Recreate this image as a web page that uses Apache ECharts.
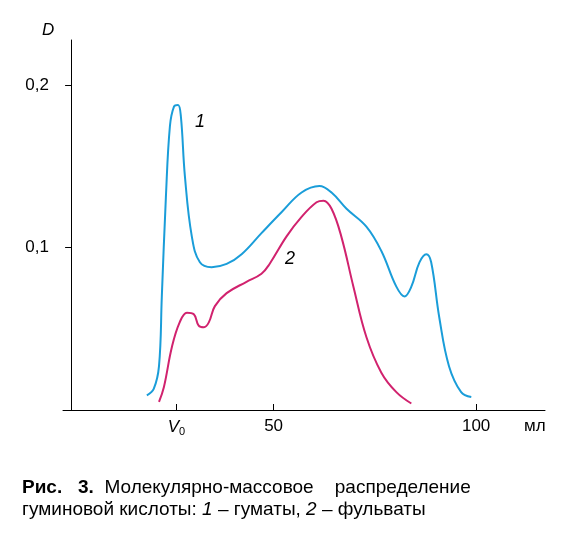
<!DOCTYPE html>
<html>
<head>
<meta charset="utf-8">
<script src="https://cdn.jsdelivr.net/npm/echarts@6/dist/echarts.min.js"></script>
<style>
html, body { margin: 0; padding: 0; background: #fff; }
#chart { width: 581px; height: 547px; }
</style>
</head>
<body>
<div id="chart"></div>
<script>
// кривая 1 - гуматы
var humates = [
	[18.7, 0.009], [20.4, 0.013], [21.7, 0.027], [22.4, 0.07], [23.4, 0.131],
	[24.4, 0.175], [25.4, 0.187], [26.4, 0.188], [27.1, 0.181], [28.1, 0.144],
	[29.8, 0.107], [31.8, 0.091], [34.7, 0.088], [38.4, 0.09], [42.1, 0.096],
	[47, 0.109], [52, 0.122], [56.9, 0.134], [61.3, 0.138], [64.3, 0.134],
	[68, 0.124], [72.9, 0.113], [76.6, 0.098], [80.3, 0.076], [82.3, 0.07],
	[84, 0.076], [86, 0.091], [87.7, 0.096], [88.9, 0.091], [90.9, 0.057],
	[93.3, 0.027], [96.3, 0.011], [98.8, 0.008]
];
// кривая 2 - фульваты
var fulvates = [
	[21.7, 0.005], [22.9, 0.014], [24.9, 0.039], [26.8, 0.054], [28.6, 0.06],
	[30.3, 0.059], [31.5, 0.052], [32.8, 0.051], [34, 0.054], [35.5, 0.064],
	[38.4, 0.072], [43.3, 0.079], [47, 0.084], [49, 0.09], [53.2, 0.107],
	[56.9, 0.119], [60.6, 0.128], [62.3, 0.129], [64.3, 0.124], [66.7, 0.107],
	[69.7, 0.076], [72.9, 0.045], [76.6, 0.023], [80.3, 0.011], [84, 0.004]
];
var xTicks = [26, 50, 100];
var yTicks = [0.1, 0.2];

var chart = echarts.init(document.getElementById('chart'));
chart.setOption({
	animation: false,
	grid: { left: 63, right: 36, top: 40, bottom: 137, containLabel: false, outerBoundsMode: 'none' },
	xAxis: {
		type: 'value', min: -2, max: 117,
		splitLine: { show: false },
		axisLine: { lineStyle: { color: '#000' } },
		axisTick: { inside: true, length: 6, customValues: xTicks, lineStyle: { color: '#000' } },
		axisLabel: {
			customValues: xTicks, color: '#000', fontSize: 17, fontFamily: 'Liberation Sans',
			formatter: function (v) { return v === 26 ? '{v|V}{s|0}' : String(v); },
			rich: { v: { fontSize: 17, fontStyle: 'italic', fontFamily: 'Liberation Sans' }, s: { fontSize: 11, verticalAlign: 'bottom', padding: [8, 0, 0, 0] } }
		}
	},
	yAxis: {
		type: 'value', min: 0, max: 0.228,
		splitLine: { show: false },
		axisLine: { show: true, lineStyle: { color: '#000' } },
		axisTick: { inside: false, length: 6, customValues: yTicks, lineStyle: { color: '#000' } },
		axisLabel: {
			customValues: yTicks, color: '#000', fontSize: 17, fontFamily: 'Liberation Sans', margin: 14,
			formatter: function (v) { return v.toFixed(1).replace('.', ','); }
		}
	},
	series: [
		{ type: 'line', data: humates, smooth: 0.4, symbol: 'none', lineStyle: { color: '#1a9dd9', width: 2 } },
		{ type: 'line', data: fulvates, smooth: 0.4, symbol: 'none', lineStyle: { color: '#d1226e', width: 2 } }
	],
	graphic: [
		{ type: 'text', left: 42, top: 22, style: { text: 'D', fontSize: 17, fontStyle: 'italic', fontFamily: 'Liberation Sans', fill: '#000' } },
		{ type: 'text', left: 524, top: 418, style: { text: 'мл', fontSize: 17, fontFamily: 'Liberation Sans', fill: '#000' } },
		{ type: 'text', left: 195, top: 113, style: { text: '1', fontSize: 18, fontStyle: 'italic', fontFamily: 'Liberation Sans', fill: '#000' } },
		{ type: 'text', left: 285, top: 250, style: { text: '2', fontSize: 18, fontStyle: 'italic', fontFamily: 'Liberation Sans', fill: '#000' } },
		{ type: 'text', left: 22, top: 478, style: {
			text: '{b|Рис.   3.}  Молекулярно-массовое    распределение',
			rich: { b: { fontWeight: 'bold', fontSize: 19, fontFamily: 'Liberation Sans' } },
			fontSize: 19, fontFamily: 'Liberation Sans', fill: '#000' } },
		{ type: 'text', left: 22, top: 500, style: {
			text: 'гуминовой кислоты: {i|1} – гуматы, {i|2} – фульваты',
			rich: { i: { fontStyle: 'italic', fontSize: 19, fontFamily: 'Liberation Sans' } },
			fontSize: 19, fontFamily: 'Liberation Sans', fill: '#000' } }
	]
});
</script>
</body>
</html>
